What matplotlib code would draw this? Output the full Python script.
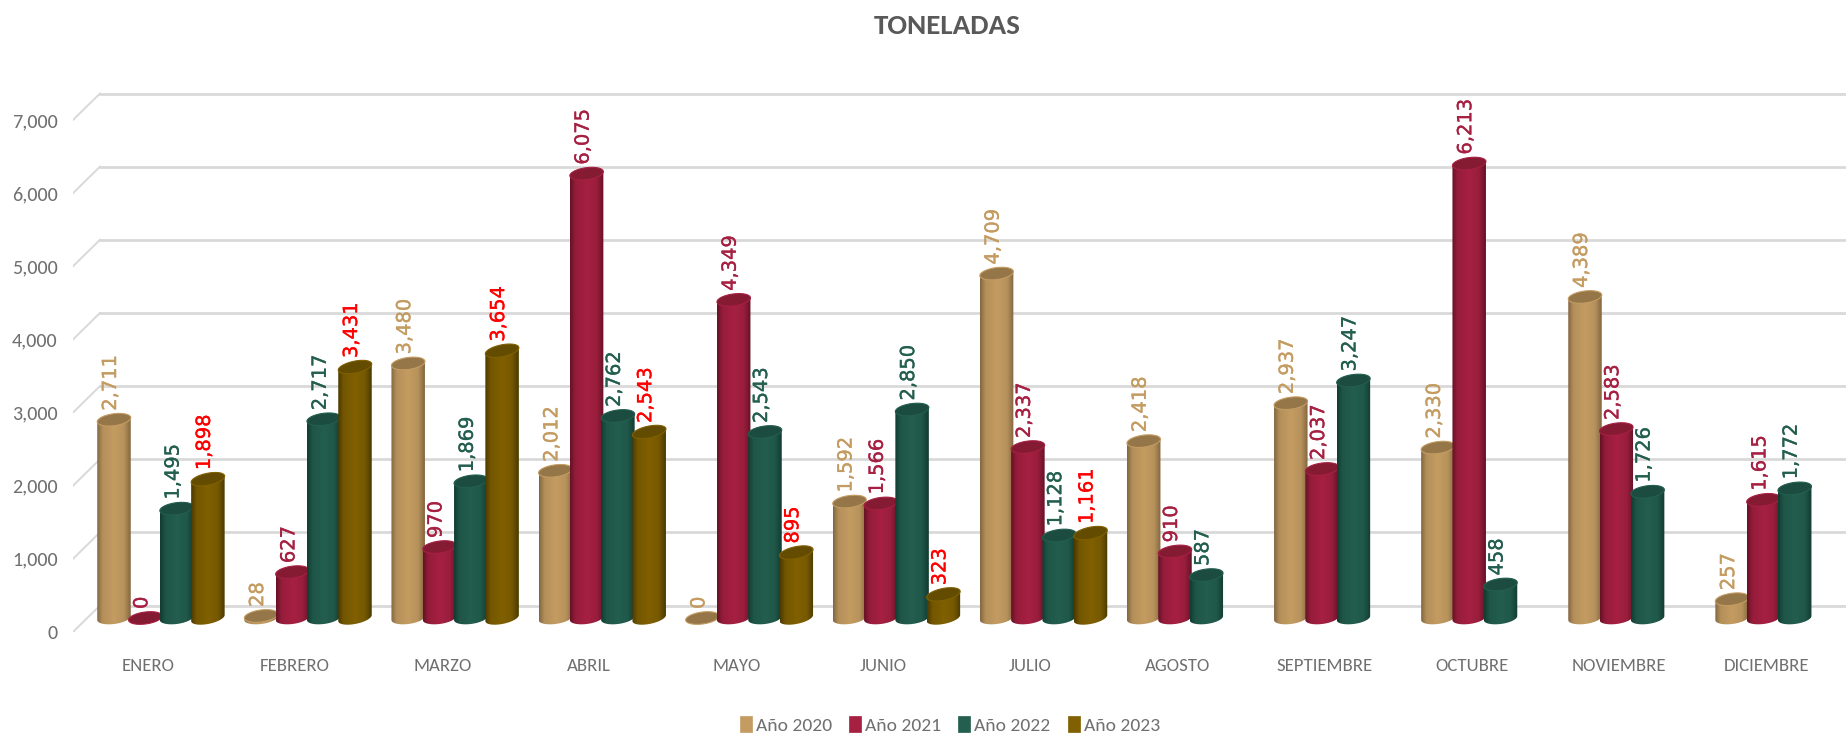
import matplotlib as mpl
mpl.use("Agg")
import matplotlib.font_manager as fm
import matplotlib.patheffects as pe
import matplotlib.pyplot as plt
import numpy as np
from matplotlib.patches import Patch
from matplotlib.path import Path

# Carlito has the Calibri metrics of the original, Lato is the closest fallback
installed = {f.name for f in fm.fontManager.ttflist}
plt.rcParams["font.family"] = "Carlito" if "Carlito" in installed else "Lato"

meses = ["ENERO", "FEBRERO", "MARZO", "ABRIL", "MAYO", "JUNIO", "JULIO",
         "AGOSTO", "SEPTIEMBRE", "OCTUBRE", "NOVIEMBRE", "DICIEMBRE"]
anio_2020 = [2711, 28, 3480, 2012, 0, 1592, 4709, 2418, 2937, 2330, 4389, 257]
anio_2021 = [0, 627, 970, 6075, 4349, 1566, 2337, 910, 2037, 6213, 2583, 1615]
anio_2022 = [1495, 2717, 1869, 2762, 2543, 2850, 1128, 587, 3247, 458, 1726, 1772]
anio_2023 = [1898, 3431, 3654, 2543, 895, 323, 1161, None, None, None, None, None]
yticks = [0, 1000, 2000, 3000, 4000, 5000, 6000, 7000]

# name, values, mid colour, edge colour, top colour, label colour, tilt px
series = [
    ("Año 2020", anio_2020, "#c49c62", "#846842", "#947648", "#c49c62", 2.0),
    ("Año 2021", anio_2021, "#a62042", "#661226", "#851a33", "#a62042", 2.0),
    ("Año 2022", anio_2022, "#235e4f", "#123c31", "#1b4c3f", "#235e4f", 2.0),
    ("Año 2023", anio_2023, "#806000", "#4c3a00", "#634b00", "#ff0000", 3.0),
]

W, H = 1846, 735
PX_X = 147.1  # pixels per month
PX_Y = (632 - 120) / 7000  # pixels per ton
BASE = 14 / PX_Y  # bars stand a bit above the front edge of the floor
DEPTH_X = 27 / PX_X
DEPTH_Y = 26.5 / PX_Y
BAR_W = 33.5 / PX_X
STEP = 31.3 / PX_X
FIRST = -34 / PX_X
ELL_H = 6 / PX_Y


def ellipse(cx, cy, tilt, t):
    xs = cx + BAR_W / 2 * np.cos(t)
    ys = cy + ELL_H * np.sin(t) + tilt / PX_Y * np.cos(t)
    return xs, ys


def shade(mid, edge):
    mid = np.array(mpl.colors.to_rgb(mid))
    edge = np.array(mpl.colors.to_rgb(edge))
    u = np.linspace(0, 1, 48)
    k = np.interp(u, [0, 0.16, 0.5, 0.8, 1], [0, 0.75, 1, 0.8, 0])
    return (edge + (mid - edge) * k[:, None])[None, :, :]


fig = plt.figure(figsize=(W / 100, H / 100), dpi=100)
ymax = 7400
top_px = 632 - ymax * PX_Y
ax = fig.add_axes([73 / W, 1 - 632 / H, 1 - 73 / W, (632 - top_px) / H])

xmin, xmax = (73 - 148) / PX_X, (W - 148) / PX_X

for v in yticks:
    ax.plot([xmin, xmin + DEPTH_X], [v, v + DEPTH_Y], color="#d9d9d9", lw=1.4, zorder=1)
    ax.plot([xmin + DEPTH_X, xmax], [v + DEPTH_Y, v + DEPTH_Y], color="#d9d9d9", lw=2.0, zorder=1)

tt = np.linspace(0, 2 * np.pi, 80)
low = np.linspace(0, -np.pi, 40)
for s, (name, vals, mid, edge, top, lab, tilt) in enumerate(series):
    img = shade(mid, edge)
    for i, val in enumerate(vals):
        if val is None:
            continue
        x = i + FIRST + s * STEP
        z = 3 + s + i * 5
        if val > 0:
            bar = ax.bar(x, val, BAR_W, bottom=BASE, color=mid, lw=0, zorder=z)[0]
            bx, by = ellipse(x, BASE, tilt, low)
            rx, ry = ellipse(x, BASE + val, tilt, np.array([-np.pi, 0.0]))
            verts = np.column_stack([np.r_[bx, rx, bx[0]], np.r_[by, ry, by[0]]])
            im = ax.imshow(img, extent=(x - BAR_W / 2, x + BAR_W / 2, BASE - ELL_H * 1.6, BASE + val + ELL_H * 1.6),
                           aspect="auto", interpolation="bilinear", zorder=z + 0.1)
            im.set_clip_path(Path(verts, closed=True), ax.transData)
            bar.set_visible(False)
        ex, ey = ellipse(x, BASE + val, tilt, tt)
        ax.fill(ex, ey, facecolor=top, edgecolor=mid, lw=0.8, zorder=z + 0.2)
        ax.annotate(f"{val:,}", (x, BASE + val), xytext=(-2.5, 6.5), textcoords="offset points",
                    rotation=90, ha="center", va="bottom", fontsize=14, color=lab,
                    family="DejaVu Sans", zorder=90,
                    path_effects=[pe.withStroke(linewidth=0.25, foreground=lab)])

ax.set_xlim(xmin, xmax)
ax.set_ylim(0, ymax)
ax.set_xticks(range(len(meses)), meses)
ax.set_yticks(yticks, [f"{v:,}" for v in yticks])
ax.tick_params(axis="x", length=0, pad=19, labelsize=13.5, labelcolor="#6f6f6f")
ax.tick_params(axis="y", length=0, pad=11, labelsize=14.5, labelcolor="#6f6f6f")
for sp in ax.spines.values():
    sp.set_visible(False)
ax.patch.set_visible(False)

fig.text(947 / W, 1 - 26 / H, "TONELADAS", ha="center", va="center", fontsize=21,
         fontweight="bold", color="#595959")

handles = [Patch(facecolor=c[2], edgecolor=c[2], lw=0.5, label=c[0]) for c in series]
fig.legend(handles=handles, loc="center", bbox_to_anchor=(950 / W, 1 - 725 / H), ncols=4,
           frameon=False, fontsize=14, labelcolor="#6f6f6f", handlelength=0.62,
           handleheight=0.85, handletextpad=0.2, columnspacing=0.88, borderpad=0)

fig.savefig("out.png", dpi=100)
